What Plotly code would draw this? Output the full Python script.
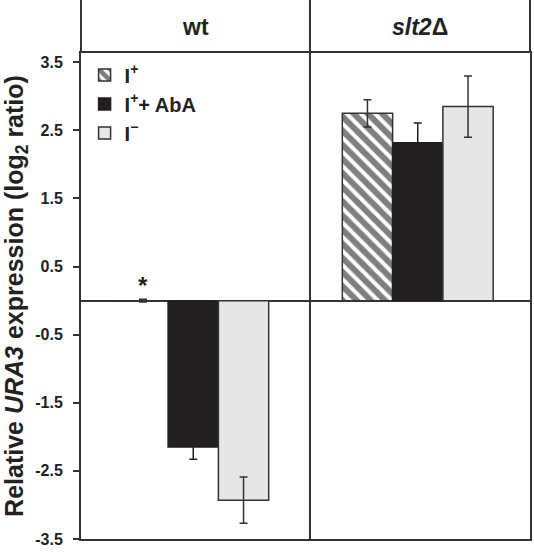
import plotly.graph_objects as go

# ---- data ----
groups = [0, 1]                      # 0 = wt, 1 = slt2Δ
group_labels = ["<b>wt</b>", "<b><i>slt2</i>Δ</b>"]
series_names = ["I<sup>+</sup>", "I<sup>+</sup>+ AbA", "I<sup>−</sup>"]
i_plus = [0.0, 2.75]
i_plus_err = [0.02, 0.20]
i_plus_aba = [-2.15, 2.32]
i_plus_aba_err = [0.18, 0.29]
i_minus = [-2.93, 2.85]
i_minus_err = [0.34, 0.45]
ytick_vals = [-3.5, -2.5, -1.5, -0.5, 0.5, 1.5, 2.5, 3.5]
ytick_text = ["-3.5", "-2.5", "-1.5", "-0.5", "0.5", "1.5", "2.5", "3.5"]

FONT = "Liberation Sans, Arial, sans-serif"
LINE = "#333333"
BLACK = "#231f20"
BARGAP = 0.328

def err_style(color):
    return dict(type="data", visible=True, color=color, thickness=1.5, width=4)

fig = go.Figure()
fig.add_trace(go.Bar(
    x=groups, y=i_plus, name=series_names[0], legendgroup="a",
    error_y=dict(array=i_plus_err, **err_style(LINE)),
    marker=dict(color="white", line=dict(color=LINE, width=1.5),
                pattern=dict(shape="\\", fgcolor="#000000", bgcolor="white",
                             size=10, solidity=0.6)),
))
fig.add_trace(go.Bar(
    x=groups, y=i_plus_aba, name=series_names[1], legendgroup="b",
    error_y=dict(array=i_plus_aba_err, **err_style(BLACK)),
    marker=dict(color=BLACK, line=dict(color=BLACK, width=1.5)),
))
fig.add_trace(go.Bar(
    x=groups, y=i_minus, name=series_names[2], legendgroup="c",
    error_y=dict(array=i_minus_err, **err_style(LINE)),
    marker=dict(color="#e6e6e6", line=dict(color=LINE, width=1.5)),
))

# header box & panel divider
hdr_top = 1 + 53 / 486
div_x = (311 - 81) / 451
shapes = [
    dict(type="line", xref="paper", yref="paper", x0=0, x1=0, y0=1, y1=hdr_top + 0.01,
         line=dict(color=LINE, width=2)),
    dict(type="line", xref="paper", yref="paper", x0=1, x1=1, y0=1, y1=hdr_top + 0.01,
         line=dict(color=LINE, width=2)),
    dict(type="line", xref="paper", yref="paper", x0=div_x, x1=div_x, y0=0, y1=hdr_top + 0.01,
         line=dict(color=LINE, width=2)),
]

annotations = [
    dict(text=group_labels[0], xref="paper", yref="paper", x=(196 - 81) / 451, y=1 + 26 / 486,
         showarrow=False, font=dict(family=FONT, size=23, color="#222"), xanchor="center", yanchor="middle"),
    dict(text=group_labels[1], xref="paper", yref="paper", x=(421.5 - 81) / 451, y=1 + 26 / 486,
         showarrow=False, font=dict(family=FONT, size=23, color="#222"), xanchor="center", yanchor="middle"),
    dict(text="<b>*</b>", x=groups[0] - (1 - BARGAP) / 3, y=i_plus[0], yref="y", xref="x",
         showarrow=False, yshift=15, font=dict(family=FONT, size=24, color="#222"),
         xanchor="center", yanchor="middle"),
]

fig.update_layout(
    width=534, height=558,
    margin=dict(l=81, r=2, t=53, b=19, pad=0),
    paper_bgcolor="white", plot_bgcolor="white",
    barmode="group", bargap=BARGAP, bargroupgap=0,
    font=dict(family=FONT, color="#222"),
    showlegend=True,
    legend=dict(x=0.008, y=0.995, xanchor="left", yanchor="top",
                bgcolor="rgba(0,0,0,0)", borderwidth=0,
                font=dict(family=FONT, size=20, color="#222", weight="bold"),
                tracegroupgap=5, itemwidth=30, traceorder="normal"),
    xaxis=dict(range=[-0.5, 1.5], showticklabels=False, ticks="", showgrid=False,
               zeroline=False, showline=True, linecolor=LINE, linewidth=2, mirror=True),
    yaxis=dict(range=[-3.5, 3.636], tickvals=ytick_vals, ticktext=ytick_text,
               ticks="outside", ticklen=6, tickwidth=1.5, tickcolor=LINE,
               ticklabelstandoff=7,
               tickfont=dict(family=FONT, size=16, color="#222", weight="bold"),
               showgrid=False, zeroline=True, zerolinecolor=LINE, zerolinewidth=1.5,
               showline=True, linecolor=LINE, linewidth=2, mirror=True,
               title=dict(text="<b>Relative <i>URA3</i> expression (log<sub>2</sub> ratio)</b>",
                          font=dict(family=FONT, size=25, color="#222"), standoff=7)),
    shapes=shapes,
    annotations=annotations,
)

fig.write_html("out.html", config={"displayModeBar": False},
               post_script="document.body.style.margin='0px';")
